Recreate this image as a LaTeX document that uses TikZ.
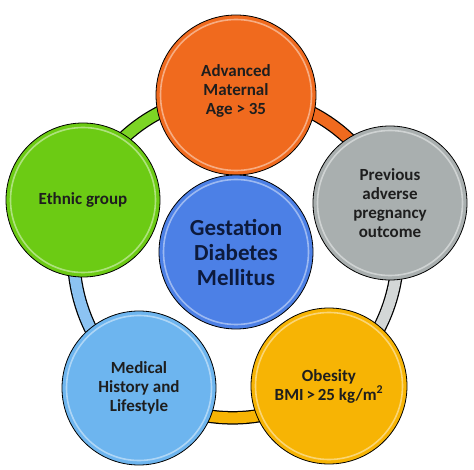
\documentclass[tikz,border=0pt]{standalone}
\usepackage{fontspec}
\setmainfont{Carlito}
\usetikzlibrary{backgrounds}
\definecolor{cOrange}{HTML}{F06A1E}
\definecolor{cGray}{HTML}{A9AFAF}
\definecolor{cYellow}{HTML}{F7B404}
\definecolor{cBlue}{HTML}{6DB5EF}
\definecolor{cGreen}{HTML}{6CCB14}
\definecolor{cCenter}{HTML}{4C80E6}
\definecolor{txtDark}{HTML}{1E1E1E}
\definecolor{txtNavy}{HTML}{0D1A3C}
\definecolor{ringGray}{HTML}{D3D7D7}
\definecolor{ringBlue}{HTML}{8CC3F2}
\definecolor{ringGreen}{HTML}{7CD424}
\tikzset{
  bub/.style={circle, draw=black, line width=0.8pt, inner sep=0pt, align=center,
    text=txtDark, font=\bfseries\fontsize{17}{19}\selectfont},
  hl/.style={line width=1.6pt, opacity=0.45, draw=white},
  ringout/.style={line width=13.5pt, draw=black},
  ringin/.style={line width=11pt},
}
\begin{document}
\begin{tikzpicture}[x=1pt,y=1pt]
\useasboundingbox (0,0) rectangle (474,469);
\node[bub, fill=cOrange, minimum size=160pt] (o) at (236,374) {Advanced\\Maternal\\Age > 35\\[-9pt]\mbox{}};
\node[bub, fill=cGray, minimum size=154pt] (g) at (390,266) {Previous\\adverse\\pregnancy\\outcome};
\node[bub, fill=cYellow, minimum size=156pt] (y) at (329,83) {Obesity\\BMI\,>\,25 kg/m\textsuperscript{2}};
\node[bub, fill=cBlue, minimum size=154pt] (b) at (139,81) {Medical\\History and\\Lifestyle};
\node[bub, fill=cGreen, minimum size=154pt] (gr) at (83,269) {Ethnic group};
\node[bub, fill=cCenter, minimum size=154pt, text=txtNavy,
  font=\bfseries\fontsize{23}{25}\selectfont] (c) at (236,217) {Gestation\\Diabetes\\Mellitus};
\foreach \n/\r in {o/75.5,g/72.5,y/73.5,b/72.5,gr/72.5,c/72.5}
  \draw[hl] (\n.center) circle (\r);
\begin{pgfonlayer}{background}
  \foreach \a/\b/\col in {o/g/cOrange, g/y/ringGray, y/b/cYellow, b/gr/ringBlue, gr/o/ringGreen}{
    \draw[ringout] (\a.center) to[bend left=36, looseness=0.94] (\b.center);
    \draw[ringin, draw=\col] (\a.center) to[bend left=36, looseness=0.94] (\b.center);
  }
\end{pgfonlayer}
\end{tikzpicture}
\end{document}
